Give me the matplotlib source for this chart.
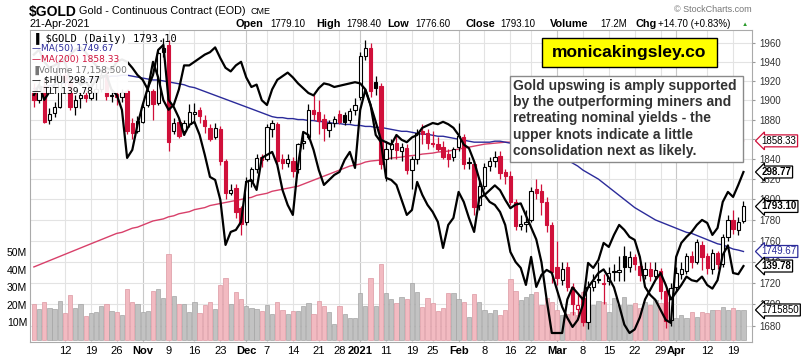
import numpy as np
import pandas as pd
import matplotlib
matplotlib.use('Agg')
from matplotlib import pyplot as plt

# trading days shown on the chart
holidays = ['2020-11-26', '2020-12-25', '2021-01-01', '2021-01-18', '2021-02-15', '2021-04-02']
days = pd.bdate_range('2020-10-02', '2021-04-21')
days = days[~days.isin(pd.to_datetime(holidays))]

opens = [1908, 1900, 1915, 1880, 1887, 1893, 1926, 1920, 1893, 1902, 1905, 1902, 1908, 1912, 1926, 1904, 1906, 1903, 1910, 1876,
         1868, 1878, 1895, 1910, 1897, 1950, 1958, 1868, 1878, 1868, 1875, 1886, 1890, 1880, 1871, 1862, 1870, 1838, 1806, 1811,
         1792, 1778, 1818, 1830, 1842, 1840, 1870, 1875, 1840, 1836, 1838, 1830, 1856, 1862, 1890, 1888, 1881, 1869, 1876, 1886,
         1885, 1880, 1890, 1903, 1946, 1955, 1919, 1915, 1840, 1850, 1856, 1848, 1851, 1829, 1840, 1868, 1866, 1856, 1855, 1852,
         1845, 1842, 1852, 1862, 1836, 1835, 1795, 1813, 1833, 1838, 1843, 1827, 1823, 1797, 1774, 1776, 1780, 1810, 1808, 1797,
         1775, 1735, 1723, 1735, 1716, 1696, 1706, 1684, 1716, 1724, 1720, 1722, 1730, 1730, 1745, 1735, 1744, 1736, 1727, 1733,
         1726, 1731, 1712, 1686, 1716, 1728, 1731, 1745, 1740, 1756, 1745, 1733, 1748, 1738, 1764, 1780, 1770, 1779.1]
highs = [1918, 1922, 1922, 1892, 1898, 1932, 1935, 1922, 1905, 1908, 1912, 1920, 1918, 1932, 1930, 1912, 1910, 1912, 1912, 1882,
         1884, 1898, 1912, 1912, 1952, 1965, 1963, 1882, 1882, 1880, 1896, 1897, 1893, 1885, 1875, 1877, 1873, 1840, 1815, 1815,
         1794, 1822, 1832, 1845, 1845, 1875, 1880, 1878, 1845, 1845, 1842, 1856, 1866, 1896, 1905, 1900, 1886, 1880, 1884, 1890,
         1888, 1892, 1902, 1950, 1963, 1960, 1925, 1918, 1858, 1860, 1865, 1856, 1855, 1843, 1870, 1875, 1870, 1868, 1862, 1858,
         1850, 1852, 1876, 1865, 1842, 1838, 1818, 1836, 1842, 1848, 1848, 1830, 1828, 1800, 1785, 1790, 1812, 1820, 1815, 1802,
         1778, 1760, 1740, 1740, 1720, 1710, 1712, 1722, 1728, 1740, 1728, 1735, 1738, 1745, 1755, 1750, 1747, 1742, 1740, 1740,
         1740, 1734, 1715, 1720, 1735, 1740, 1748, 1750, 1762, 1760, 1748, 1752, 1750, 1766, 1785, 1790, 1783, 1798.4]
lows = [1893, 1897, 1876, 1875, 1883, 1892, 1915, 1890, 1885, 1892, 1898, 1900, 1900, 1908, 1900, 1898, 1895, 1898, 1865, 1860,
        1866, 1876, 1893, 1880, 1895, 1945, 1848, 1865, 1861, 1864, 1872, 1877, 1876, 1866, 1858, 1860, 1834, 1800, 1804, 1782,
        1765, 1775, 1812, 1826, 1832, 1838, 1862, 1835, 1830, 1832, 1822, 1826, 1850, 1860, 1880, 1865, 1858, 1862, 1872, 1875,
        1874, 1876, 1885, 1900, 1942, 1903, 1905, 1830, 1818, 1840, 1840, 1838, 1825, 1810, 1835, 1855, 1850, 1852, 1848, 1840,
        1832, 1838, 1848, 1830, 1830, 1785, 1790, 1810, 1828, 1832, 1820, 1815, 1795, 1770, 1770, 1768, 1778, 1800, 1785, 1768,
        1720, 1718, 1718, 1712, 1690, 1688, 1680, 1677, 1712, 1720, 1700, 1718, 1722, 1722, 1722, 1730, 1732, 1722, 1724, 1722,
        1724, 1705, 1678, 1680, 1712, 1724, 1728, 1734, 1738, 1732, 1728, 1728, 1733, 1735, 1760, 1766, 1765, 1776.6]
closes = [1900, 1915, 1878, 1886, 1893, 1926, 1921, 1893, 1900, 1905, 1902, 1908, 1912, 1926, 1904, 1905, 1903, 1908, 1868, 1866,
          1879, 1893, 1909, 1896, 1949, 1955, 1857, 1876, 1863, 1876, 1888, 1888, 1884, 1873, 1860, 1871, 1838, 1806, 1809, 1788,
          1776, 1818, 1830, 1841, 1839, 1872, 1876, 1838, 1836, 1840, 1828, 1855, 1858, 1890, 1886, 1879, 1871, 1876, 1881, 1878,
          1878, 1889, 1895, 1946, 1955, 1910, 1913, 1835, 1850, 1855, 1849, 1852, 1829, 1840, 1866, 1865, 1856, 1855, 1850, 1842,
          1840, 1850, 1863, 1835, 1836, 1793, 1813, 1832, 1838, 1842, 1826, 1823, 1797, 1774, 1776, 1778, 1808, 1806, 1797, 1775,
          1730, 1725, 1733, 1716, 1700, 1699, 1684, 1716, 1722, 1723, 1719, 1729, 1731, 1732, 1735, 1744, 1738, 1727, 1733, 1726,
          1732, 1712, 1685, 1715, 1729, 1733, 1745, 1740, 1759, 1744, 1734, 1748, 1738, 1764, 1780, 1771, 1778, 1793.1]
volume_m = [20.6, 17.7, 21.7, 18.3, 17.7, 22.3, 15.4, 25.7, 18.3, 20.6, 13.7, 15.4, 16, 19.4, 20.6, 16.6, 16, 14.3, 29, 21.7,
            20.6, 16, 16.6, 28, 29, 24, 49, 25, 20.6, 20.6, 16, 21.7, 15.4, 20, 21.7, 17.7, 31.4, 35.4, 20.6, 27.4,
            23.4, 19.4, 18.3, 17.7, 16.6, 20, 14.9, 21.7, 17, 14.9, 16.6, 16.6, 19.4, 21, 14.9, 22.3, 19.4, 16, 9, 19.4,
            14.9, 12.6, 12.6, 26.8, 19.4, 35.4, 19.4, 43.4, 26.8, 23.4, 21, 24.6, 23.4, 32.6, 27.4, 18.9, 24, 21, 16.6, 18.3,
            26.9, 26.9, 23.4, 21.7, 13, 26.3, 21.7, 17, 15.4, 17, 14.3, 17, 34.9, 28, 23, 24.6, 26, 27.4, 20, 24,
            21.7, 17, 14.3, 15, 16, 14.3, 27.4, 24, 20, 22, 21.7, 16, 24, 20, 24.6, 20, 21, 18, 21.7, 20,
            22.9, 21, 21.7, 15.4, 12.6, 14.3, 12.6, 16, 13.2, 16, 15.4, 17, 17, 18.9, 17, 18, 17, 17.1585]
ma50 = [1912, 1913, 1914, 1915, 1916, 1917, 1918, 1919, 1920, 1921, 1922, 1922, 1923, 1924, 1924, 1925, 1925, 1926,
        1926, 1925, 1924, 1923, 1922, 1921, 1921, 1920,
        1919, 1918, 1917, 1916, 1914, 1913, 1911, 1909, 1907, 1905, 1903, 1901, 1899, 1897, 1895, 1893, 1891, 1889, 1887, 1885, 1883,
        1882, 1882, 1881, 1881, 1880, 1880, 1879, 1879, 1878, 1878, 1877, 1876, 1876, 1875, 1875, 1874, 1874, 1873, 1873, 1872, 1872, 1871,
        1870, 1869, 1868, 1868, 1867, 1866, 1865, 1865, 1864, 1863, 1863, 1862, 1861, 1860, 1859, 1858, 1857, 1857, 1857, 1857, 1858, 1858,
        1857, 1856, 1855, 1854, 1852, 1851, 1849, 1848, 1846, 1845, 1843, 1841, 1839,
        1836, 1833, 1829, 1826, 1823, 1820, 1816, 1812, 1808, 1804, 1800, 1796,
        1792, 1789, 1786, 1783, 1780, 1778, 1776, 1774, 1772, 1770, 1768, 1767, 1765, 1763, 1761, 1759, 1757, 1756, 1754, 1752, 1751, 1749.67]
ma200 = [1735, 1737, 1739, 1741, 1743, 1745, 1747, 1749, 1751, 1753, 1755, 1757,
         1759, 1761, 1763, 1765, 1767, 1768, 1770, 1772, 1773, 1775, 1777, 1779,
         1780, 1781, 1783, 1784, 1786, 1787, 1788, 1790, 1791, 1792, 1794, 1795, 1796, 1797, 1798, 1799, 1800, 1801, 1802, 1804, 1805, 1806, 1808,
         1809, 1810, 1811, 1812, 1813, 1815, 1817, 1819, 1821, 1823, 1825, 1827, 1829, 1831, 1833, 1834, 1835, 1837, 1838,
         1838.5, 1839, 1840, 1841, 1841.5, 1842, 1843, 1843.5, 1844, 1845, 1845.5, 1846, 1847, 1847.5, 1848, 1849, 1850, 1851, 1852,
         1853, 1854, 1855, 1855.5, 1856, 1856.5, 1857, 1857,
         1857.1, 1857.1, 1857.2, 1857.2, 1857.3, 1857.3, 1857.4, 1857.4, 1857.5, 1857.5, 1857.5, 1857.6, 1857.6, 1857.6, 1857.7,
         1857.7, 1857.7, 1857.8, 1857.8, 1857.8, 1857.9, 1857.9, 1857.9, 1858.0, 1858.0, 1858.0, 1858.0, 1858.1, 1858.1, 1858.1,
         1858.1, 1858.2, 1858.2, 1858.2, 1858.2, 1858.2, 1858.3, 1858.3, 1858.3, 1858.3, 1858.3, 1858.3, 1858.33, 1858.33, 1858.33]
hui = [329.6, 333.6, 327.6, 330.8, 333.6, 343.6, 342.8, 335.6, 336.4, 333.6, 334.8, 332.4, 335.6,
       336.4, 337.6, 331.6, 329.6, 323.6, 304.4, 307.6, 317.6, 325.6, 332.4, 337.6, 347.6, 349.6,
       327.6, 324.8, 320.4, 313.6, 317.6, 318.8, 313.6, 305.6, 296.8, 295.6, 287.6, 269.6,
       274.8, 275.6, 278.8, 294.8, 295.6, 291.6, 304.4, 305.6, 306.8, 301.6, 291.6, 285.6,
       281.6, 301.6, 314.8, 313.6, 307.6, 299.6, 293.6, 295.6, 297.6, 298.8, 303.6, 306.8,
       300.4, 323.6, 331.6, 325.6, 313.6, 310.8, 296.4, 295.6, 293.6, 287.6, 281.6, 283.6,
       294.8, 289.6, 285.6, 282.8, 278.8, 268.4, 277.6, 280.4, 290.8, 286.8, 280.4, 274.8,
       288.4, 289.6, 286.8, 285.6, 282.8, 277.6, 266.8, 262.8, 260.4, 253.6, 264.8, 252.8,
       257.6, 259.6, 258.4, 251.6, 244.8, 240.4, 236.8, 239.6, 245.6, 262.4, 260.4,
       263.6, 270.4, 268.8, 273.6, 277.6, 275.6, 272.8, 271.6, 264.8, 252.8, 249.6,
       247.6, 243.6, 239.6, 238.4, 264.8, 270.4, 272.8, 274.8, 277.6, 279.6, 278.4,
       273.6, 276.4, 286.8, 290.8, 288.8, 293.6, 298.77]
tlt = [157.4, 157.8, 156.8, 156.3, 156.5, 156.8, 157.0, 157.4, 157.8, 158.0, 157.6, 157.0, 156.5, 156.0, 156.3, 156.1,
       156.8, 157.0, 156.8, 156.3, 155.7, 155.3, 154.5, 156.8, 155.5, 153.6, 152.8, 153.2, 154.5, 156.5, 156.5,
       156.8, 157.1, 157.4, 157.6, 158.0, 157.1, 156.3, 156.0, 156.5, 156.8, 155.5, 154.7, 154.9, 153.6, 153.2,
       154.5, 155.3, 155.6, 155.9, 155.5, 155.0, 154.6, 154.2, 154.0, 154.6, 155.0, 154.9, 154.7, 154.8, 154.9,
       155.0, 155.1, 155.0, 154.5, 153.2, 151.8, 150.3, 150.1, 149.9, 150.7, 150.3, 150.1, 150.5, 150.7,
       151.3, 151.5, 151.7, 151.6, 151.8, 151.6, 151.3, 150.7, 149.9, 149.6, 148.5, 147.0, 145.7, 146.1,
       146.5, 146.1, 145.3, 144.6, 144.9, 145.0, 144.0, 143.0, 142.0, 140.1, 137.0, 134.2, 134.2,
       134.2, 137.0, 138.0, 137.5, 137.0, 138.0, 138.6, 139.2, 139.5, 138.8, 138.0, 136.5,
       134.9, 134.2, 134.5, 135.5, 137.0, 137.8, 138.6, 139.2, 138.2, 137.0, 137.6, 138.2,
       138.9, 138.6, 138.5, 138.9, 138.2, 137.9, 138.6, 140.7, 141.5, 139.2, 139.1, 139.78]

tick_dates = ['2020-10-12', '2020-10-19', '2020-10-26', '2020-11-02', '2020-11-09', '2020-11-16', '2020-11-23',
              '2020-12-01', '2020-12-07', '2020-12-14', '2020-12-21', '2020-12-28', '2021-01-04', '2021-01-11',
              '2021-01-19', '2021-01-25', '2021-02-01', '2021-02-08', '2021-02-16', '2021-02-22', '2021-03-01',
              '2021-03-08', '2021-03-15', '2021-03-22', '2021-03-29', '2021-04-01', '2021-04-12', '2021-04-19']
tick_labels = ['12', '19', '26', 'Nov', '9', '16', '23', 'Dec', '7', '14', '21', '28', '2021', '11',
               '19', '25', 'Feb', '8', '16', '22', 'Mar', '8', '15', '22', '29', 'Apr', '12', '19']
price_ticks = [1680, 1700, 1720, 1740, 1760, 1780, 1800, 1820, 1840, 1860, 1880, 1900, 1920, 1940, 1960]
vol_ticks = [10, 20, 30, 40, 50]

plt.rcParams['font.family'] = ['Liberation Sans', 'DejaVu Sans']
RED = '#d0103a'
NAVY = '#2b2b9a'
W, H = 803, 360
fig = plt.figure(figsize=(W / 100, H / 100), dpi=100)
rect = [30 / W, 1 - 342 / H, 722 / W, 312 / H]

n = len(days)
x = np.arange(n)
o = np.array(opens, float)
h = np.array(highs, float)
l = np.array(lows, float)
c = np.array(closes, float)
prev = np.concatenate([[o[0]], c[:-1]])
up_day = c >= prev

# background axes: price scale, grid and right labels
ax = fig.add_axes(rect)
ax.set_yscale('log')
ax.set_ylim(1665.5, 1974)
ax.set_xlim(-0.75, n - 1 + 1.65)
ax.yaxis.tick_right()
ax.set_yticks(price_ticks)
ax.set_yticklabels([str(t) for t in price_ticks], fontsize=7, color='#333333')
ax.yaxis.set_minor_locator(matplotlib.ticker.NullLocator())
ax.tick_params(axis='y', length=2, pad=3, color='#999999')
pos = [days.get_loc(pd.Timestamp(d)) for d in tick_dates]
ax.set_xticks(pos)
ax.set_xticklabels(tick_labels, fontsize=8)
for lab in ax.get_xticklabels():
    if not lab.get_text().isdigit() or lab.get_text() == '2021':
        lab.set_fontweight('bold')
ax.tick_params(axis='x', length=0, pad=3)
for p, t in zip(pos, tick_labels):
    col = '#c8c8c8' if not t.isdigit() or t == '2021' else '#e3e3e3'
    ax.axvline(p, color=col, lw=0.8, zorder=0)
for t in price_ticks:
    ax.axhline(t, color='#e3e3e3', lw=0.8, zorder=0)
for s in ax.spines.values():
    s.set_color('#aaaaaa')

# volume
axv = fig.add_axes(rect, sharex=ax)
axv.patch.set_alpha(0)
axv.set_ylim(-1.14, 177)
vcol = np.where(up_day, '#c2c2c2', '#f2bac1')
vedge = np.where(up_day, '#a4a4a4', '#dc98a2')
axv.bar(x, volume_m, width=0.82, color=vcol, edgecolor=vedge, linewidth=0.5)
axv.yaxis.tick_left()
axv.set_yticks(vol_ticks)
axv.set_yticklabels([f'{v}M' for v in vol_ticks], fontsize=7.5)
axv.tick_params(axis='y', length=0, pad=2)
axv.tick_params(axis='x', bottom=False, labelbottom=False)
for s in axv.spines.values():
    s.set_visible(False)

# candles and moving averages
axc = fig.add_axes(rect, sharex=ax, sharey=ax)
axc.patch.set_alpha(0)
axc.axis('off')
axc.plot(x, ma200, color='#d8406a', lw=1.0)
axc.plot(x, ma50, color=NAVY, lw=1.0)
ecol = np.where(up_day, 'black', RED)
axc.vlines(x, l, h, colors=ecol, lw=0.9)
body_lo = np.minimum(o, c)
body_h = np.maximum(np.abs(c - o), 0.8)
fcol = [('white' if cc > oo else e) for oo, cc, e in zip(o, c, ecol)]
axc.bar(x, body_h, bottom=body_lo, width=0.64, color=fcol, edgecolor=ecol, linewidth=0.8, zorder=3)

# overlays, each on its own scale
axh = fig.add_axes(rect, sharex=ax)
axh.patch.set_alpha(0)
axh.axis('off')
axh.set_ylim(230.77, 355.57)
axh.plot(x, hui, color='black', lw=1.6)
axt = fig.add_axes(rect, sharex=ax)
axt.patch.set_alpha(0)
axt.axis('off')
axt.set_ylim(133.45, 159.45)
axt.plot(x, tlt, color='black', lw=1.6)

# full-figure layer in pixel coordinates for the legend and notes
axl = fig.add_axes([0, 0, 1, 1])
axl.axis('off')
axl.set_xlim(0, W)
axl.set_ylim(H, 0)
axl.add_patch(plt.Rectangle((31, 31), 97, 62, color='white', alpha=0.92, lw=0))
axl.text(33, 38, '\u2590 $GOLD (Daily) 1793.10', fontsize=7.5, family='DejaVu Sans Mono', va='center')
leg = [('\u2014MA(50) 1749.67', NAVY), ('\u2014MA(200) 1858.33', RED), ('\u2590Volume 17,158,500', '#777777'),
       ('\u2014 $HUI 298.77', 'black'), ('\u2014 TLT 139.78', 'black')]
for i, (t, col) in enumerate(leg):
    axl.text(32, 49 + i * 10.5, t, fontsize=6.5, family='DejaVu Sans', color=col, va='center')

axl.add_patch(plt.Rectangle((542, 38), 175, 29, fc='#ffff00', ec='black', lw=1, zorder=5))
axl.text(629.5, 53, 'monicakingsley.co', fontsize=12.5, fontweight='bold', ha='center', va='center', zorder=6)
axl.add_patch(plt.Rectangle((510, 76), 233, 86, fc='white', ec='#8a8a8a', lw=1, zorder=5))
note = ('Gold upswing is amply supported\nby the outperforming miners and\nretreating nominal yields - the\n'
        'upper knots indicate a little\nconsolidation next as likely.')
axl.text(513, 79, note, fontsize=10, fontweight='bold', color='#333333', va='top', linespacing=1.2, zorder=6)

# right-side value tags
tags = [(ax, 1858.33, '1858.33', RED, 'normal'), (axh, 298.77, '298.77', 'black', 'bold'),
        (ax, 1793.10, '1793.10', 'black', 'bold'), (ax, 1749.67, '1749.67', NAVY, 'normal'),
        (axt, 139.78, '139.78', 'black', 'bold'), (axv, 17.1585, '1715850', 'black', 'normal')]
for a, v, t, col, wt in tags:
    a.annotate(t, xy=(1.0, v), xycoords=('axes fraction', 'data'), xytext=(7, 0), textcoords='offset points',
               fontsize=7, fontweight=wt, color='black' if col == RED else col, va='center', ha='left',
               bbox=dict(boxstyle='larrow,pad=0.1', fc='white', ec=col, lw=0.9), annotation_clip=False, zorder=10)

# header
fig.text(29 / W, 1 - 12 / H, '$GOLD', fontsize=10, fontweight='bold', va='center')
fig.text(79 / W, 1 - 11 / H, 'Gold - Continuous Contract (EOD)', fontsize=7.8, va='center')
fig.text(251 / W, 1 - 11 / H, 'CME', fontsize=6.5, va='center')
fig.text(30 / W, 1 - 24 / H, '21-Apr-2021', fontsize=7.8, va='center')
fig.text(752 / W, 1 - 9 / H, '\u00a9 StockCharts.com', fontsize=6.5, color='#777777', ha='right', va='center')
head = [(236, 'Open', 'bold'), (270, '1779.10', 'normal'), (316, 'High', 'bold'), (346, '1798.40', 'normal'),
        (387, 'Low', 'bold'), (415, '1776.60', 'normal'), (466, 'Close', 'bold'), (500, '1793.10', 'normal'),
        (550, 'Volume', 'bold'), (600, '17.2M', 'normal'), (635, 'Chg', 'bold'), (658, '+14.70 (+0.83%)', 'normal')]
for px, t, wt in head:
    fig.text(px / W, 1 - 24 / H, t, fontsize=7.8 if wt == 'bold' else 7, fontweight=wt, va='center')
fig.text(742 / W, 1 - 24 / H, '\u25b2', fontsize=4.5, color='#2a9a2a', va='center')

fig.savefig('out.png', dpi=100)
